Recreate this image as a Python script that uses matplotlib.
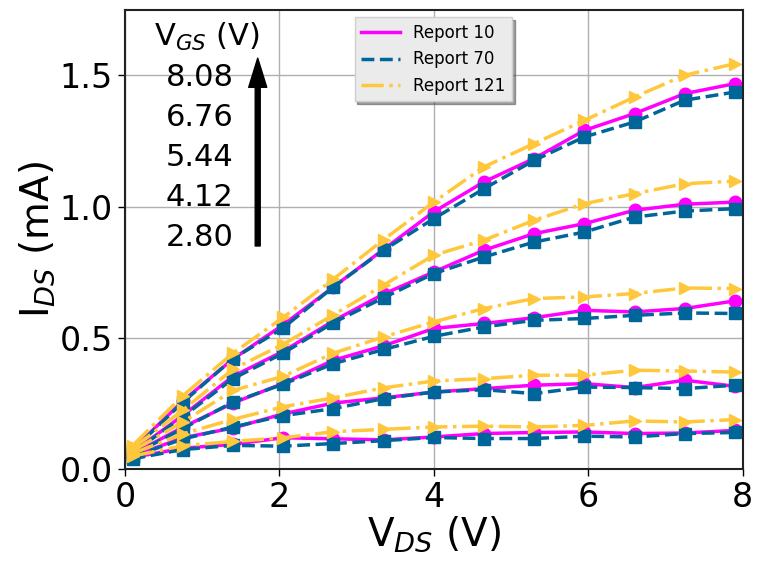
import matplotlib
matplotlib.use('Agg')
import matplotlib.pyplot as plt
from matplotlib.lines import Line2D

# drain voltage sweep (V)
vds = [0.1, 0.75, 1.4, 2.05, 2.7, 3.35, 4.0, 4.65, 5.3, 5.95, 6.6, 7.25, 7.9]
vgs_labels = ['8.08', '6.76', '5.44', '4.12', '2.80']

# drain current (mA), one row per gate voltage, top to bottom
report10 = [
    [0.075, 0.26, 0.42, 0.55, 0.694, 0.837, 0.98, 1.094, 1.183, 1.29, 1.354, 1.43, 1.468],
    [0.065, 0.205, 0.354, 0.449, 0.565, 0.667, 0.751, 0.834, 0.897, 0.935, 0.986, 1.009, 1.017],
    [0.058, 0.16, 0.252, 0.327, 0.415, 0.470, 0.536, 0.555, 0.577, 0.605, 0.599, 0.612, 0.641],
    [0.05, 0.12, 0.157, 0.211, 0.252, 0.272, 0.294, 0.307, 0.320, 0.326, 0.311, 0.339, 0.316],
    [0.045, 0.08, 0.095, 0.12, 0.116, 0.112, 0.123, 0.136, 0.140, 0.142, 0.136, 0.138, 0.148],
]
report70 = [
    [0.072, 0.255, 0.421, 0.538, 0.694, 0.834, 0.954, 1.068, 1.176, 1.265, 1.322, 1.405, 1.436],
    [0.063, 0.20, 0.345, 0.442, 0.558, 0.653, 0.745, 0.808, 0.865, 0.903, 0.960, 0.983, 0.992],
    [0.055, 0.155, 0.256, 0.324, 0.402, 0.456, 0.506, 0.542, 0.567, 0.574, 0.586, 0.595, 0.593],
    [0.048, 0.115, 0.161, 0.204, 0.231, 0.269, 0.294, 0.303, 0.288, 0.313, 0.311, 0.307, 0.320],
    [0.040, 0.075, 0.091, 0.088, 0.098, 0.109, 0.121, 0.117, 0.117, 0.126, 0.123, 0.136, 0.140],
]
report121 = [
    [0.09, 0.28, 0.442, 0.578, 0.724, 0.874, 1.017, 1.151, 1.24, 1.328, 1.417, 1.50, 1.544],
    [0.08, 0.225, 0.381, 0.476, 0.588, 0.701, 0.815, 0.872, 0.948, 1.011, 1.049, 1.087, 1.097],
    [0.07, 0.18, 0.30, 0.354, 0.442, 0.504, 0.561, 0.612, 0.650, 0.656, 0.669, 0.690, 0.688],
    [0.06, 0.135, 0.19, 0.238, 0.272, 0.310, 0.336, 0.345, 0.358, 0.358, 0.377, 0.374, 0.370],
    [0.05, 0.09, 0.106, 0.120, 0.143, 0.152, 0.161, 0.164, 0.161, 0.167, 0.184, 0.180, 0.189],
]

fig = plt.figure(figsize=(7.57, 5.62), dpi=100)
ax = fig.add_axes([0.165, 0.165, 0.816, 0.818])

styles = [
    ('Report 10', report10, dict(color='#ff00ff', linestyle='-', marker='o')),
    ('Report 70', report70, dict(color='#00669a', linestyle='--', marker='s')),
    ('Report 121', report121, dict(color='#ffc83c', linestyle='-.', marker='>')),
]
handles = []
for name, curves, st in styles:
    for ids in curves:
        ax.plot(vds, ids, linewidth=2.5, markersize=9, **st)
    handles.append(Line2D([], [], color=st['color'], linestyle=st['linestyle'],
                          linewidth=2.5, label=name))

ax.set_xlim(0, 8)
ax.set_ylim(0, 1.75)
ax.set_xticks([0, 2, 4, 6, 8])
ax.set_yticks([0.0, 0.5, 1.0, 1.5])
ax.grid(True, color='#b0b0b0', linewidth=1)
ax.set_axisbelow(True)
ax.tick_params(labelsize=24, length=5, width=1)
for sp in ax.spines.values():
    sp.set_linewidth(1.5)
    sp.set_color('#222222')
ax.set_xlabel('V$_{DS}$ (V)', fontsize=28, labelpad=0)
ax.set_ylabel('I$_{DS}$ (mA)', fontsize=28, labelpad=2)

# gate voltage annotation with arrow
ax.text(1.06, 1.645, 'V$_{GS}$ (V)', fontsize=22, ha='center', va='center')
for k, lab in enumerate(vgs_labels):
    ax.text(0.97, 1.49 - k * 0.152, lab, fontsize=22, ha='center', va='center')
ax.annotate('', xy=(1.72, 1.565), xytext=(1.72, 0.85),
            arrowprops=dict(facecolor='black', edgecolor='black', width=3.6,
                            headwidth=13, headlength=21))

leg = ax.legend(handles=handles, loc='upper left', bbox_to_anchor=(0.372, 0.983),
                borderaxespad=0, fontsize=12, shadow=True, fancybox=False,
                framealpha=1, handlelength=2.3)
leg.get_frame().set_facecolor('#ebebeb')
leg.get_frame().set_edgecolor('#d0d0d0')

fig.savefig('out.png', dpi=100)
